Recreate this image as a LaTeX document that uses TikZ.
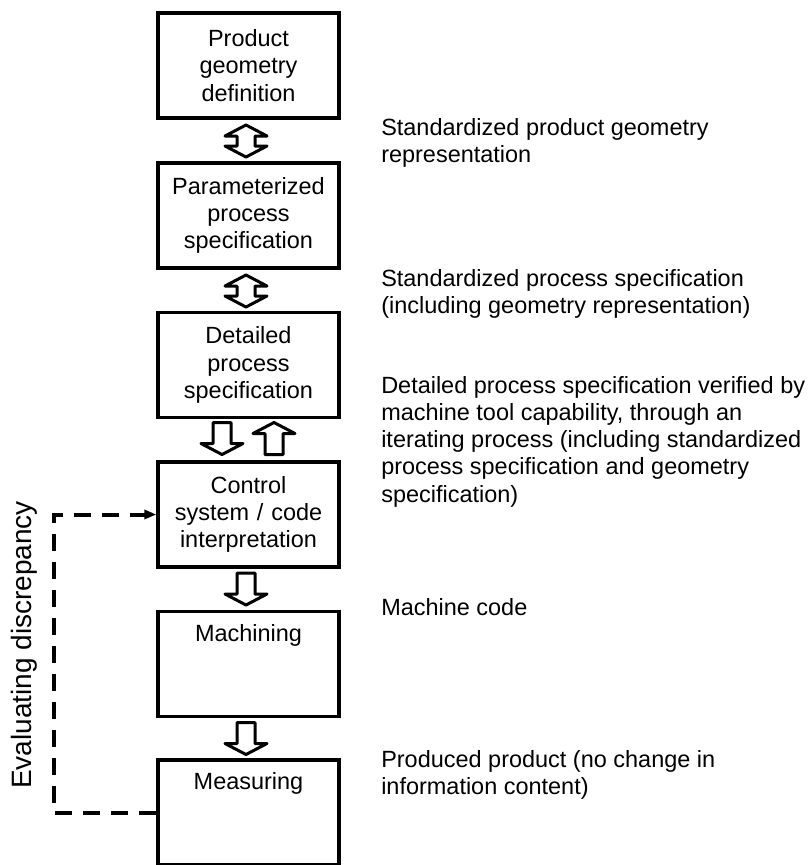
\documentclass[tikz,border=0pt]{standalone}
\usepackage{fontspec}
\setmainfont{Liberation Sans}
\usetikzlibrary{arrows.meta}

\tikzset{
  box/.style={draw, line width=2.4pt, minimum width=135.75pt, minimum height=78.75pt,
    text width=127pt, align=center, inner sep=0pt},
  note/.style={anchor=north west, align=left, inner sep=0pt},
  fatarrow/.style={draw, line width=2.25pt, line join=round},
  feedback/.style={line width=3pt, dash pattern=on 12.75pt off 8.25pt,
    -{Triangle[length=9pt,width=6.75pt]}}
}

\begin{document}
\begin{tikzpicture}[x=0.75pt, y=-0.75pt, font=\fontsize{17.6}{20.4}\selectfont]
  \useasboundingbox (0,0) rectangle (809,865);

  % Boxes of the chain
  \node[box] (b1) at (248.5,65.5) {Product\\geometry\\definition};
  \node[box] (b2) at (248.5,215.5) {Parameterized\\process\\specification};
  \node[box] (b3) at (248.5,365) {Detailed\\process\\specification};
  \node[box] (b4) at (248.5,514.5) {Control\\system / code\\interpretation};
  \node[box] (b5) at (248.5,664) {Machining\\\strut\\\strut};
  \node[box] (b6) at (248.5,812.5) {Measuring\\\strut\\\strut};

  % Block arrows between boxes
  \coordinate (a12) at (246,141);
  \coordinate (a23) at (246,291);
  \coordinate (a34) at (222,438.5);
  \coordinate (a43) at (274,438.5);
  \coordinate (a45) at (246,589);
  \coordinate (a56) at (246,738.5);

  \foreach \c in {a12,a23}
  {\draw[fatarrow] (\c) ++(0,-16) -- ++(21,11) -- ++(-12,0) -- ++(0,10) -- ++(12,0)
     -- ++(-21,11) -- ++(-21,-11) -- ++(12,0) -- ++(0,-10) -- ++(-12,0) -- cycle;}
  \foreach \c in {a34,a45,a56}
  {\draw[fatarrow] (\c) ++(-9,-16) -- ++(18,0) -- ++(0,21) -- ++(12,0)
     -- ++(-21,11) -- ++(-21,-11) -- ++(12,0) -- cycle;}
  \draw[fatarrow] (a43) ++(-9,16) -- ++(18,0) -- ++(0,-21) -- ++(12,0)
     -- ++(-21,-11) -- ++(-21,11) -- ++(12,0) -- cycle;

  % Information passed on
  \node[note] (t1) at (381,118) {Standardized product geometry\\representation};
  \node[note] (t2) at (381,269) {Standardized process specification\\(including geometry representation)};
  \node[note] (t3) at (381,376) {Detailed process specification verified by\\machine tool capability, through an\\iterating process (including standardized\\process specification and geometry\\specification)};
  \node[note] (t4) at (381,598) {Machine code};
  \node[note] (t5) at (381,750) {Produced product (no change in\\information content)};

  % Feedback loop
  \coordinate (fb) at (54,660);
  \draw[feedback] (b6.west) -- (b6.west -| fb) |- (b4.west);
  \node[rotate=90, font=\fontsize{21}{24}\selectfont] (evl) at (24,645) {Evaluating discrepancy};
\end{tikzpicture}
\end{document}
